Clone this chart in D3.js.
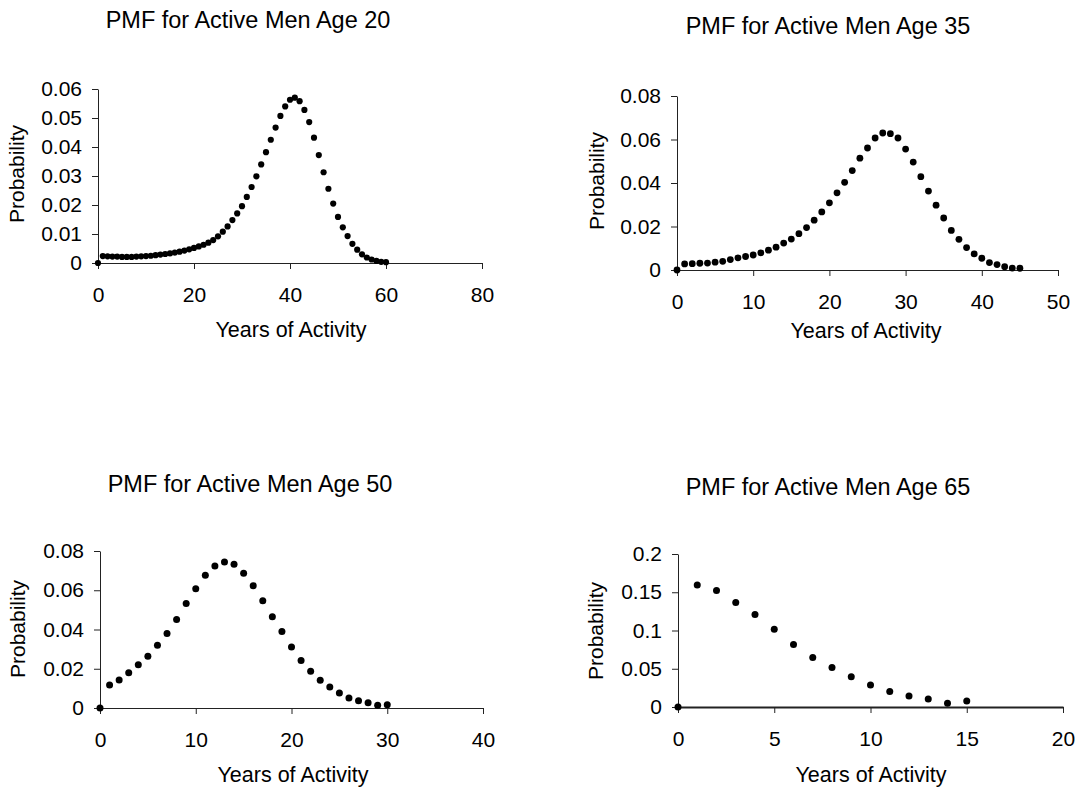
<!DOCTYPE html>
<html>
<head>
<meta charset="utf-8">
<script src="https://cdn.jsdelivr.net/npm/d3@7"></script>
<style>
  body { margin: 0; background: #fff; }
  text { font-family: "Liberation Sans", Arial, sans-serif; fill: #000; }
</style>
</head>
<body>
<div id="chart"></div>
<script>
// values, index = years of activity
var age20Values = [0, 0.0024, 0.0023, 0.0022, 0.0022, 0.0021, 0.0021, 0.0021, 0.0022, 0.0023,
  0.0024, 0.0025, 0.0027, 0.0029, 0.0031, 0.0033, 0.0036, 0.0039, 0.0043, 0.0047,
  0.0052, 0.0057, 0.0063, 0.0070, 0.0079, 0.0092, 0.0108, 0.0126, 0.0148, 0.0171,
  0.0196, 0.0228, 0.0262, 0.0299, 0.0340, 0.0382, 0.0425, 0.0467, 0.0507, 0.0540,
  0.0563, 0.0570, 0.0558, 0.0528, 0.0486, 0.0432, 0.0372, 0.0313, 0.0256, 0.0205,
  0.0159, 0.0123, 0.0093, 0.0066, 0.0046, 0.0030, 0.0019, 0.0012, 0.0007, 0.0004, 0.0003];
var age35Values = [0, 0.0028, 0.0029, 0.0031, 0.0032, 0.0036, 0.0040, 0.0048, 0.0056, 0.0062,
  0.0069, 0.0079, 0.0091, 0.0105, 0.0124, 0.0142, 0.0167, 0.0195, 0.0229, 0.0267,
  0.0309, 0.0355, 0.0403, 0.0457, 0.0514, 0.0561, 0.0607, 0.0630, 0.0627, 0.0607,
  0.0556, 0.0496, 0.0429, 0.0363, 0.0298, 0.0239, 0.0182, 0.0141, 0.0103, 0.0074,
  0.0054, 0.0034, 0.0025, 0.0015, 0.0009, 0.0008];
var age50Values = [0, 0.0117, 0.0143, 0.0179, 0.0221, 0.0264, 0.0320, 0.0380, 0.0451, 0.0533,
  0.0608, 0.0677, 0.0723, 0.0744, 0.0732, 0.0686, 0.0623, 0.0546, 0.0465, 0.0390,
  0.0311, 0.0242, 0.0187, 0.0141, 0.0107, 0.0077, 0.0051, 0.0037, 0.0027, 0.0014, 0.0017];
var age65Values = [0, 0.1594, 0.1524, 0.1367, 0.1210, 0.1017, 0.0817, 0.0646, 0.0515, 0.0397,
  0.0288, 0.0201, 0.0144, 0.0105, 0.0050, 0.0077];

var ages = [20, 35, 50, 65];
var xTicks20 = [0, 20, 40, 60, 80],
    xTicks35 = [0, 10, 20, 30, 40, 50],
    xTicks50 = [0, 10, 20, 30, 40],
    xTicks65 = [0, 5, 10, 15, 20];
var yTicks20 = [0, 0.01, 0.02, 0.03, 0.04, 0.05, 0.06],
    yTicks35 = [0, 0.02, 0.04, 0.06, 0.08],
    yTicks50 = [0, 0.02, 0.04, 0.06, 0.08],
    yTicks65 = [0, 0.05, 0.1, 0.15, 0.2];

var width = 1079,
    height = 788;

// page layout of each small chart (plot box + text positions)
var panels = [
  {values: age20Values, xTicks: xTicks20, yTicks: yTicks20,
   left: 98, right: 482, top: 89, bottom: 263,
   titleX: 248, titleY: 28, labelX: 291, labelY: 337, probX: 24, probY: 174, r: 3.1, axisW: 1},
  {values: age35Values, xTicks: xTicks35, yTicks: yTicks35,
   left: 677, right: 1058, top: 96, bottom: 270,
   titleX: 828, titleY: 34, labelX: 866, labelY: 338, probX: 604, probY: 181, r: 3.4, axisW: 1},
  {values: age50Values, xTicks: xTicks50, yTicks: yTicks50,
   left: 100, right: 483, top: 551, bottom: 708,
   titleX: 250, titleY: 492, labelX: 293, labelY: 782, probX: 25, probY: 629, r: 3.5, axisW: 1},
  {values: age65Values, xTicks: xTicks65, yTicks: yTicks65,
   left: 678, right: 1063, top: 554, bottom: 707,
   titleX: 828, titleY: 495, labelX: 871, labelY: 782, probX: 603, probY: 631, r: 3.5, axisW: 2}
];

var svg = d3.select("#chart").append("svg")
    .attr("width", width)
    .attr("height", height);

function fmt(d) {
  return d === 0 ? "0" : String(+d.toFixed(3));
}

panels.forEach(function(p, i) {
  var x = d3.scaleLinear()
      .domain(d3.extent(p.xTicks))
      .range([p.left, p.right]);
  var y = d3.scaleLinear()
      .domain(d3.extent(p.yTicks))
      .range([p.bottom, p.top]);

  var g = svg.append("g");

  g.append("text")
      .attr("x", p.titleX)
      .attr("y", p.titleY)
      .attr("text-anchor", "middle")
      .style("font-size", "23.5px")
      .text("PMF for Active Men Age " + ages[i]);

  var xAxis = g.append("g")
      .attr("transform", "translate(0," + p.bottom + ")")
      .call(d3.axisBottom(x).tickValues(p.xTicks).tickFormat(fmt)
          .tickSizeInner(6).tickSizeOuter(0).tickPadding(18));
  xAxis.select(".domain").attr("stroke-width", p.axisW);

  g.append("g")
      .attr("transform", "translate(" + p.left + ",0)")
      .call(d3.axisLeft(y).tickValues(p.yTicks).tickFormat(fmt)
          .tickSizeInner(6).tickSizeOuter(0).tickPadding(10));

  g.selectAll(".tick text")
      .style("font-size", "21px")
      .style("font-family", "'Liberation Sans', Arial, sans-serif")
      .attr("fill", "#000");
  g.selectAll(".domain, .tick line").attr("stroke", "#222");

  g.append("text")
      .attr("x", p.labelX)
      .attr("y", p.labelY)
      .attr("text-anchor", "middle")
      .style("font-size", "21.5px")
      .text("Years of Activity");

  g.append("text")
      .attr("transform", "translate(" + p.probX + "," + p.probY + ") rotate(-90)")
      .attr("text-anchor", "middle")
      .style("font-size", "21px")
      .text("Probability");

  g.selectAll("circle")
      .data(p.values)
    .enter().append("circle")
      .attr("cx", function(d, k) { return x(k); })
      .attr("cy", function(d) { return y(d); })
      .attr("r", p.r)
      .attr("fill", "#000");
});
</script>
</body>
</html>
